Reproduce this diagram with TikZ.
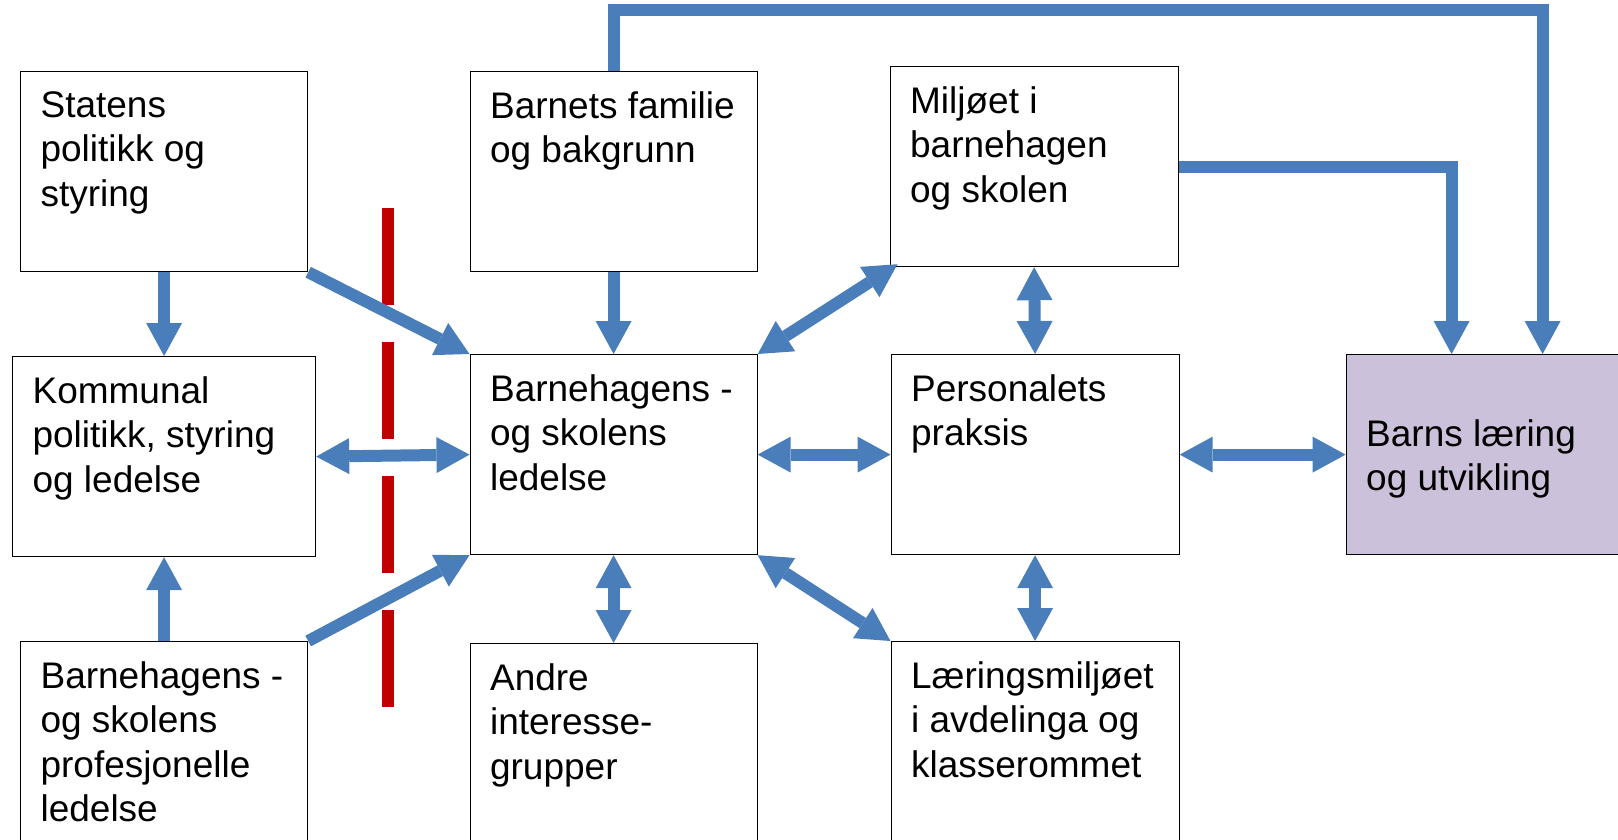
\documentclass[tikz,border=0pt]{standalone}
\usepackage{fontspec}
\setmainfont{Liberation Sans}
\usetikzlibrary{arrows.meta}
\definecolor{blaa}{RGB}{74,126,187}
\definecolor{rod}{RGB}{192,0,0}
\definecolor{lilla}{RGB}{204,193,218}
\newcommand{\felt}[3]{\parbox[t][#2][t]{#1}{\raggedright #3}}

\begin{document}
\begin{tikzpicture}[x = 1pt, y = -1pt,
  every node/.style={font=\fontsize{37}{44.5}\selectfont},
  boks/.style={draw, line width = 1.2pt, anchor = north west, inner sep = 20pt, fill = white},
  pil/.style={draw = blaa, line width = 12pt, -{Triangle[width = 36pt, length = 33pt, line width = 0pt]}},
  dobbel/.style={pil, {Triangle[width = 36pt, length = 33pt, line width = 0pt]}-{Triangle[width = 36pt, length = 33pt, line width = 0pt]}}]
  \useasboundingbox (0,0) rectangle (1618,840);
  \node (statens) [boks] at (20,71) {\felt{247pt}{160pt}{Statens\\politikk og\\styring}};
  \node (kommunal) [boks] at (12,356) {\felt{263pt}{160pt}{Kommunal\\politikk, styring\\og ledelse}};
  \node (prof) [boks] at (20,641) {\felt{247pt}{180pt}{Barnehagens -\\og skolens\\profesjonelle\\ledelse}};
  \node (familie) [boks] at (469.5,71) {\felt{247pt}{160pt}{Barnets familie\\og bakgrunn}};
  \node (ledelse) [boks] at (469.5,354) {\felt{247pt}{160pt}{Barnehagens -\\og skolens\\ledelse}};
  \node (andre) [boks] at (469.5,643) {\felt{247pt}{180pt}{Andre\\interesse-\\grupper}};
  \node (miljo) [boks] at (889.5,66) {\felt{248pt}{160pt}{Miljøet i\\barnehagen\\og skolen}};
  \node (personal) [boks] at (890.5,354) {\felt{248pt}{160pt}{Personalets\\praksis}};
  \node (laering) [boks] at (890.5,641) {\felt{248pt}{180pt}{Læringsmiljøet\\i avdelinga og\\klasserommet}};
  \node (barns) [boks, fill = lilla] at (1345.6,354) {\felt{260pt}{160pt}{\vspace*{45pt}Barns læring\\og utvikling}};
  \coordinate (topp) at (1000,10);
  \draw [rod, line width = 12pt, dash pattern = on 97pt off 37pt] (388,208) -- (388,707);
  \draw [pil] (statens.south) -- (kommunal.north);
  \draw [pil] (prof.north) -- (kommunal.south);
  \draw [pil] (statens.south east) -- (ledelse.north west);
  \draw [pil] (prof.north east) -- (ledelse.south west);
  \draw [pil] (familie.south) -- (ledelse.north);
  \draw [dobbel] (kommunal.east) -- (ledelse.west);
  \draw [dobbel] (ledelse.south) -- (andre.north);
  \draw [dobbel] (ledelse.north east) -- ([xshift = 8pt, yshift = 3pt]miljo.south west);
  \draw [dobbel] (ledelse.east) -- (personal.west);
  \draw [dobbel] (ledelse.south east) -- (laering.north west);
  \draw [dobbel] (miljo.south) -- (personal.north);
  \draw [dobbel] (personal.south) -- (laering.north);
  \draw [dobbel] (personal.east) -- (barns.west);
  \draw [pil] (miljo.east) -| ([xshift = 106pt]barns.north west);
  \draw [pil] (familie.north) |- (topp) -| ([xshift = 197pt]barns.north west);
\end{tikzpicture}
\end{document}
